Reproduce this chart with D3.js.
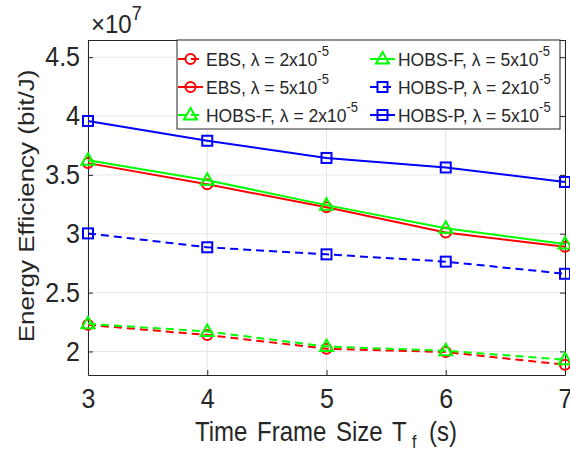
<!DOCTYPE html>
<html>
<head>
<meta charset="utf-8">
<script src="https://cdn.jsdelivr.net/npm/d3@7"></script>
<style>
  body { margin: 0; background: #fff; }
  text { font-family: "Liberation Sans", Arial, Helvetica, sans-serif; fill: #262626; }
</style>
</head>
<body>
<div id="chart"></div>
<script>
// time frame sizes (s)
const frameSizes = [3, 4, 5, 6, 7];

// energy efficiency values, in units of 1e7 bit/J
const ebs2 = [2.226, 2.14, 2.023, 1.995, 1.887];
const ebs5 = [3.60, 3.42, 3.226, 3.01, 2.89];
const hobsF2 = [2.235, 2.17, 2.042, 2.006, 1.93];
const hobsF5 = [3.625, 3.455, 3.243, 3.046, 2.913];
const hobsP2 = [3.003, 2.885, 2.825, 2.763, 2.66];
const hobsP5 = [3.958, 3.79, 3.644, 3.563, 3.44];

const yTicks = [2, 2.5, 3, 3.5, 4, 4.5];

const series = [
    {name: "EBS", lam: "2", values: ebs2, color: "#ff0000", dash: true, marker: "circle"},
    {name: "EBS", lam: "5", values: ebs5, color: "#ff0000", dash: false, marker: "circle"},
    {name: "HOBS-F", lam: "2", values: hobsF2, color: "#00ff00", dash: true, marker: "triangle"},
    {name: "HOBS-F", lam: "5", values: hobsF5, color: "#00ff00", dash: false, marker: "triangle"},
    {name: "HOBS-P", lam: "2", values: hobsP2, color: "#0000ff", dash: true, marker: "square"},
    {name: "HOBS-P", lam: "5", values: hobsP5, color: "#0000ff", dash: false, marker: "square"}
];

const width = 570, height = 454;
const margin = {left: 88, right: 5, top: 40, bottom: 79};

const svg = d3.select("#chart").append("svg")
    .attr("width", width)
    .attr("height", height);

const x = d3.scaleLinear().domain([3, 7]).range([margin.left, width - margin.right]);
const y = d3.scaleLinear().domain([1.8, 4.646]).range([height - margin.bottom, margin.top]);

// the reference glyphs look a bit taller than wide, stretch text vertically
function vstretch(sel, s) {
    sel.each(function() {
        const t = d3.select(this);
        const y0 = +t.attr("y") || 0;
        t.attr("transform", `translate(0,${y0 * (1 - s)}) scale(1,${s})`);
    });
}

// grid
const grid = svg.append("g");
grid.selectAll(".gx").data(frameSizes).enter().append("line")
    .attr("x1", d => x(d)).attr("x2", d => x(d))
    .attr("y1", y.range()[0]).attr("y2", y.range()[1])
    .attr("stroke", "#e6e6e6").attr("stroke-width", 1);
grid.selectAll(".gy").data(yTicks).enter().append("line")
    .attr("x1", x.range()[0]).attr("x2", x.range()[1])
    .attr("y1", d => y(d)).attr("y2", d => y(d))
    .attr("stroke", "#e6e6e6").attr("stroke-width", 1);

// axes (ticks pointing inward, box on)
const axisStyle = g => {
    g.select(".domain").attr("stroke", "#262626");
    g.selectAll(".tick line").attr("stroke", "#262626");
    g.selectAll("text").attr("font-size", 25).attr("fill", "#262626")
        .attr("font-family", "Liberation Sans, Arial, sans-serif");
};

const xAxis = svg.append("g")
    .attr("transform", `translate(0,${y.range()[0]})`)
    .call(d3.axisBottom(x).tickValues(frameSizes).tickFormat(d3.format("d"))
        .tickSizeInner(-5).tickSizeOuter(0).tickPadding(13))
    .call(axisStyle);
vstretch(xAxis.selectAll("text"), 1.1);

svg.append("g")
    .attr("transform", `translate(0,${y.range()[1]})`)
    .call(d3.axisTop(x).tickValues(frameSizes).tickSizeInner(-5).tickSizeOuter(0).tickFormat(""))
    .call(axisStyle);

const yAxis = svg.append("g")
    .attr("transform", `translate(${x.range()[0]},0)`)
    .call(d3.axisLeft(y).tickValues(yTicks).tickFormat(d => d3.format("")(d))
        .tickSizeInner(-5).tickSizeOuter(0).tickPadding(8))
    .call(axisStyle);
vstretch(yAxis.selectAll("text"), 1.1);

svg.append("g")
    .attr("transform", `translate(${x.range()[1]},0)`)
    .call(d3.axisRight(y).tickValues(yTicks).tickSizeInner(-5).tickSizeOuter(0).tickFormat(""))
    .call(axisStyle);

// exponent label
const expo = svg.append("text").attr("x", 91).attr("y", 33).attr("font-size", 24);
expo.append("tspan").text("\u00d710");
expo.append("tspan").attr("font-size", 18).attr("dy", -12).text("7");
vstretch(expo, 1.08);

// x label
const xl1 = svg.append("text")
    .attr("x", 195).attr("y", 441).attr("font-size", 24).attr("word-spacing", 3)
    .text("Time Frame Size T");
const xl2 = svg.append("text")
    .attr("x", 412).attr("y", 448).attr("font-size", 16).text("f");
const xl3 = svg.append("text")
    .attr("x", 429).attr("y", 441).attr("font-size", 24).text("(s)");
vstretch(xl1, 1.12); vstretch(xl2, 1.12); vstretch(xl3, 1.12);

// y label
svg.append("text")
    .attr("transform", `translate(34,206) rotate(-90) scale(1.21,1)`)
    .attr("text-anchor", "middle").attr("font-size", 21.5)
    .text("Energy Efficiency (bit/J)");

// markers
function drawMarker(g, type, cx, cy, color) {
    if (type === "circle") {
        g.append("circle").attr("cx", cx).attr("cy", cy).attr("r", 5)
            .attr("fill", "none").attr("stroke", color).attr("stroke-width", 2);
    } else if (type === "square") {
        g.append("rect").attr("x", cx - 5).attr("y", cy - 5).attr("width", 10).attr("height", 10)
            .attr("fill", "none").attr("stroke", color).attr("stroke-width", 2);
    } else {
        g.append("path")
            .attr("d", `M${cx},${cy - 7}L${cx + 6.5},${cy + 4.5}L${cx - 6.5},${cy + 4.5}Z`)
            .attr("fill", "none").attr("stroke", color).attr("stroke-width", 2);
    }
}

const line = d3.line().x((d, i) => x(frameSizes[i])).y(d => y(d));

const plot = svg.append("g");
series.forEach(s => {
    plot.append("path")
        .attr("d", line(s.values))
        .attr("fill", "none")
        .attr("stroke", s.color)
        .attr("stroke-width", 2)
        .attr("stroke-dasharray", s.dash ? "8,5" : null);
    s.values.forEach((v, i) => drawMarker(plot, s.marker, x(frameSizes[i]), y(v), s.color));
});

// legend
const lg = svg.append("g");
lg.append("rect")
    .attr("x", 177).attr("y", 40).attr("width", 383).attr("height", 89)
    .attr("fill", "#fff").attr("stroke", "#262626").attr("stroke-width", 1);

const colX = [178, 370];
const rowY = [59, 87, 115];
series.forEach((s, i) => {
    const col = Math.floor(i / 3), row = i % 3;
    const lx = colX[col], ly = rowY[row];
    lg.append("line")
        .attr("x1", lx).attr("x2", lx + 25).attr("y1", ly).attr("y2", ly)
        .attr("stroke", s.color).attr("stroke-width", 2)
        .attr("stroke-dasharray", s.dash ? "8,5" : null);
    drawMarker(lg, s.marker, lx + 12.5, ly, s.color);
    const t = lg.append("text")
        .attr("x", lx + 28).attr("y", ly + 7).attr("font-size", 17.5);
    t.append("tspan").text(`${s.name}, \u03bb = ${s.lam}x10`);
    t.append("tspan").attr("font-size", 13).attr("dy", -9).text("-5");
    vstretch(t, 1.07);
});
</script>
</body>
</html>
